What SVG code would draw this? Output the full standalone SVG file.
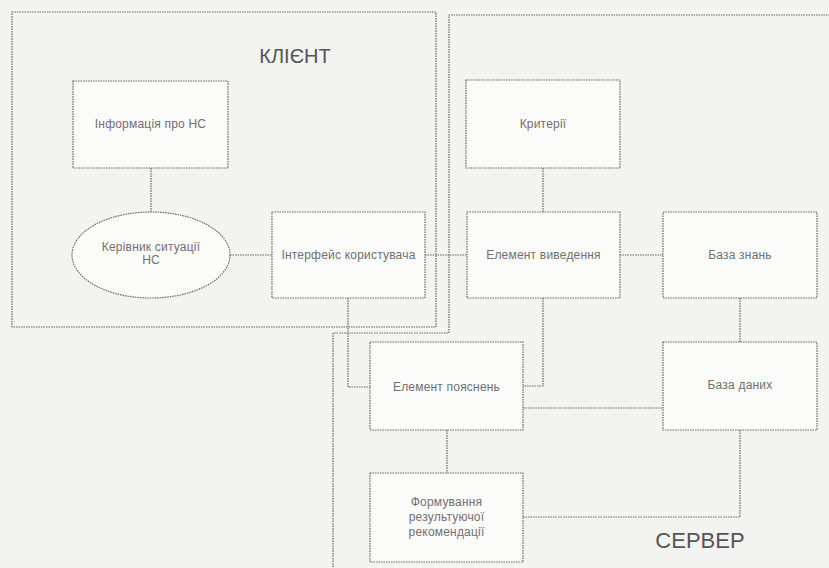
<svg xmlns="http://www.w3.org/2000/svg" width="829" height="568" viewBox="0 0 829 568">
<style>
.bg{fill:#f3f3f1}
.ln{fill:none;stroke:#666;stroke-width:1.2;stroke-dasharray:1.5 1}
.box{fill:#fbfbfa;stroke:#666;stroke-width:1.2;stroke-dasharray:1.5 1}
.t{font-family:"Liberation Sans",Arial,sans-serif;font-size:12px;fill:#707070;text-anchor:middle;letter-spacing:0.2px}
.title{font-family:"Liberation Sans",Arial,sans-serif;fill:#555;text-anchor:middle}
</style>
<rect class="bg" x="0" y="0" width="829" height="568"/>
<g id="frames">
<rect id="client-frame" class="ln" x="12" y="12" width="424" height="315"/>
<path id="server-frame" class="ln" d="M835 15 H449 V333 H333 V572"/>
<text class="title" x="295" y="63" font-size="20">КЛІЄНТ</text>
<text class="title" x="700" y="548" font-size="22">СЕРВЕР</text>
</g>
<g id="connectors">
<path class="ln" d="M151 168 V212"/>
<path class="ln" d="M230 255 H272"/>
<path class="ln" d="M425 255 H467"/>
<path class="ln" d="M620 255 H663"/>
<path class="ln" d="M543 168 V212"/>
<path class="ln" d="M740 298 V342"/>
<path class="ln" d="M348 298 V387 H370"/>
<path class="ln" d="M543 298 V386 H523"/>
<path class="ln" d="M523 408 H663"/>
<path class="ln" d="M447 430 V473"/>
<path class="ln" d="M523 517 H740 V430"/>
</g>
<g id="info">
<rect class="box" x="73" y="81" width="155" height="87"/>
<text class="t" x="150.5" y="128">Інформація про НС</text>
</g>
<g id="manager">
<ellipse class="box" cx="151" cy="255" rx="79" ry="43"/>
<text class="t" x="151" y="251">Керівник ситуації</text>
<text class="t" x="151" y="264">НС</text>
</g>
<g id="interface">
<rect class="box" x="272" y="212" width="153" height="86"/>
<text class="t" x="348.5" y="259">Інтерфейс користувача</text>
</g>
<g id="criteria">
<rect class="box" x="466" y="80" width="154" height="88"/>
<text class="t" x="543" y="128">Критерії</text>
</g>
<g id="output">
<rect class="box" x="467" y="212" width="153" height="86"/>
<text class="t" x="543.5" y="259">Елемент виведення</text>
</g>
<g id="kb">
<rect class="box" x="663" y="212" width="154" height="86"/>
<text class="t" x="740" y="259">База знань</text>
</g>
<g id="db">
<rect class="box" x="663" y="342" width="154" height="88"/>
<text class="t" x="740" y="389">База даних</text>
</g>
<g id="explain">
<rect class="box" x="370" y="342" width="153" height="88"/>
<text class="t" x="446.5" y="391">Елемент пояснень</text>
</g>
<g id="recommend">
<rect class="box" x="370" y="473" width="153" height="89"/>
<text class="t" x="446.5" y="506">Формування</text>
<text class="t" x="446.5" y="521">результуючої</text>
<text class="t" x="446.5" y="536">рекомендації</text>
</g>
</svg>
